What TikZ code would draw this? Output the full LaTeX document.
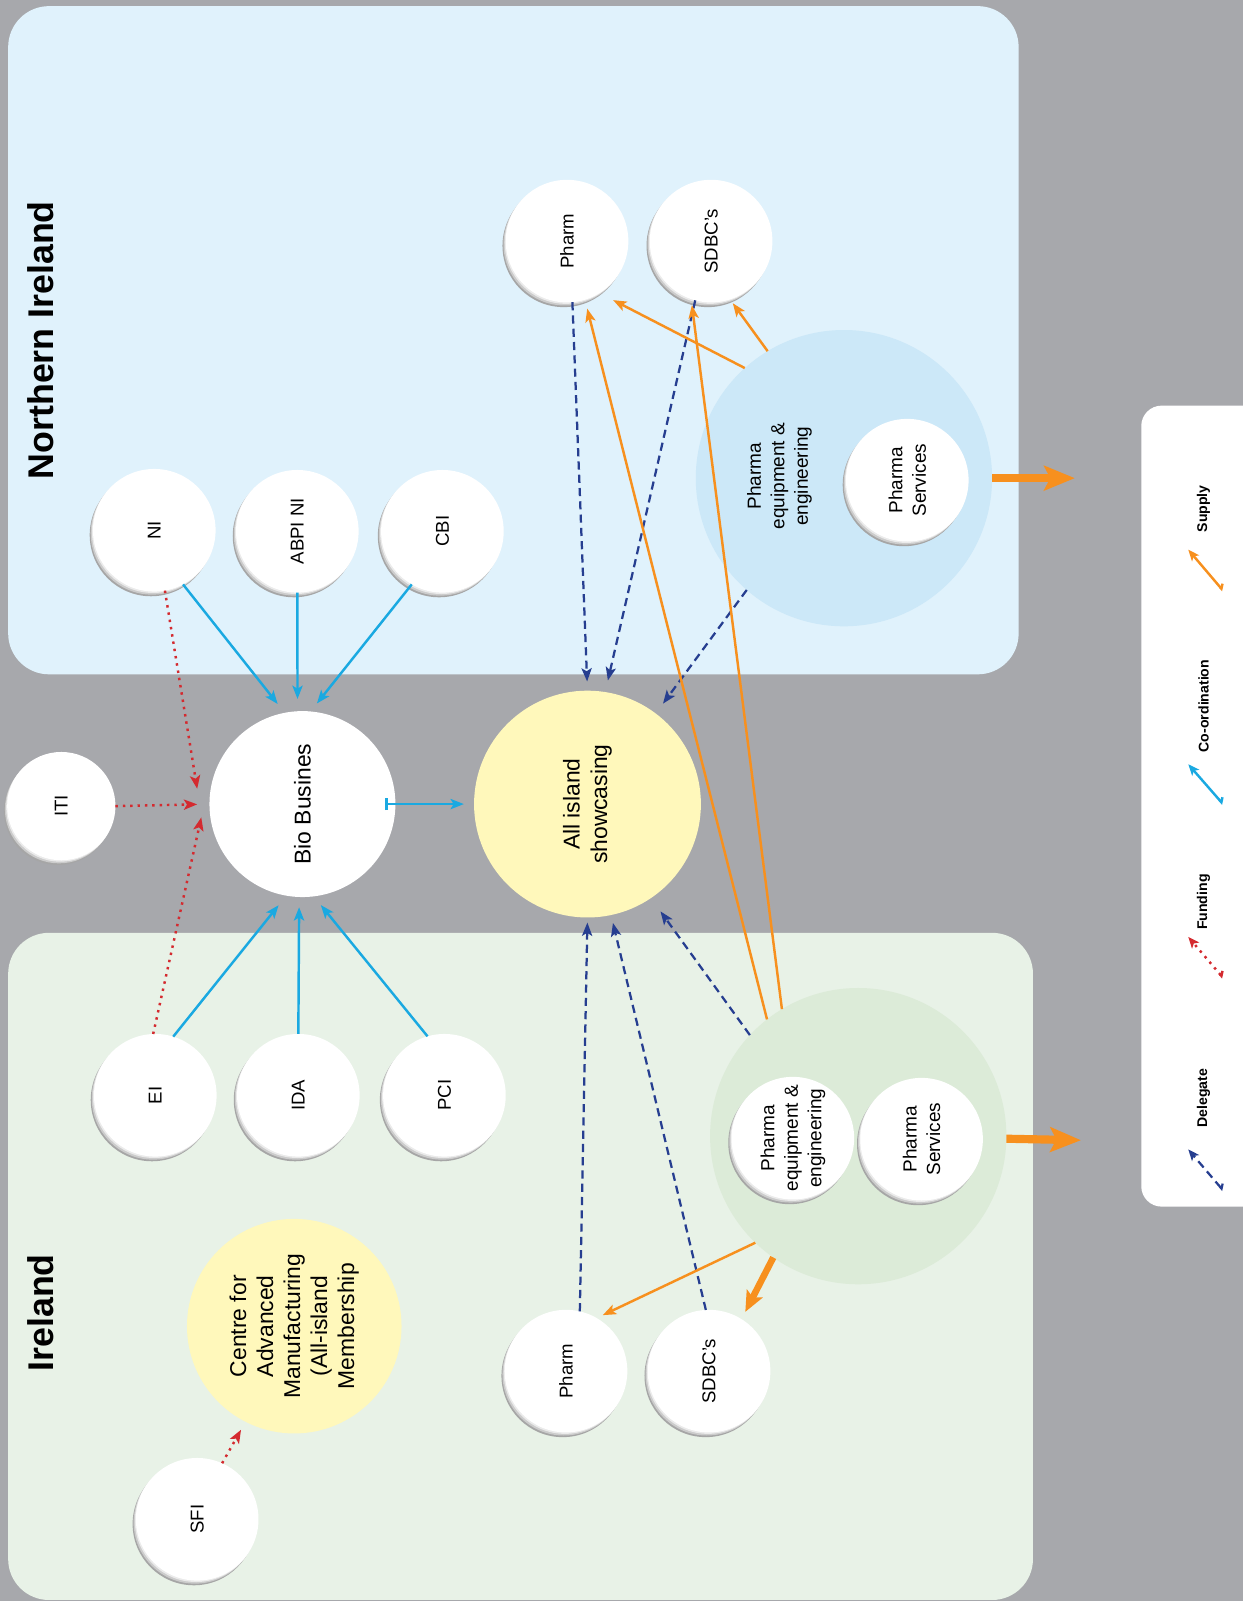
\documentclass[tikz,border=0pt]{standalone}
\usepackage{fontspec}
\setmainfont{Liberation Sans}
\usetikzlibrary{arrows.meta}
\definecolor{bgc}{HTML}{A7A8AC}
\definecolor{nip}{HTML}{E0F2FC}
\definecolor{iep}{HTML}{E8F2E7}
\definecolor{nic}{HTML}{CCE8F8}
\definecolor{iec}{HTML}{DCEBD8}
\definecolor{yel}{HTML}{FFF8BB}
\definecolor{orn}{HTML}{F7901E}
\definecolor{cyn}{HTML}{1AA9E1}
\definecolor{rd}{HTML}{D42A2F}
\definecolor{nvy}{HTML}{263E90}
\begin{document}
\begin{tikzpicture}[x=0.5pt,y=-0.5pt,
  btn/.style={circle, fill=white, minimum size=60pt, inner sep=0pt, outer sep=0pt,
    preaction={fill=black!35, transform canvas={shift={(-1.6pt,-2.3pt)}}},
    preaction={fill=black!20, transform canvas={shift={(-1.1pt,-1.5pt)}}},
    preaction={fill=black!8, transform canvas={shift={(-0.5pt,-0.7pt)}}}},
  disc/.style={circle, inner sep=0pt, outer sep=0pt},
  rottxt/.style={rotate=90, align=center, inner sep=0pt},
  txtsm/.style={font=\fontsize{9.1}{11.5}\selectfont},
  txtpe/.style={font=\fontsize{9.3}{11.5}\selectfont},
  txtmd/.style={font=\fontsize{11.2}{13.4}\selectfont},
  txtcam/.style={font=\fontsize{11.2}{13.2}\selectfont},
  txthead/.style={font=\fontsize{17.5}{20}\selectfont\bfseries},
  txtleg/.style={font=\fontsize{6.9}{8}\selectfont\bfseries},
  coordarr/.style={draw=cyn, line width=1.2pt, -{Stealth[length=6.5pt,width=5pt,inset=1.5pt]}},
  coordbar/.style={draw=cyn, line width=1.2pt, {Bar[width=6pt]}-{Stealth[length=6.5pt,width=5pt,inset=1.5pt]}},
  fundarr/.style={draw=rd, line width=1.2pt, dash pattern=on 1.2pt off 2.4pt, -{Stealth[length=6.5pt,width=5pt,inset=1.5pt]}},
  delearr/.style={draw=nvy, line width=1.1pt, dash pattern=on 4pt off 2.5pt, -{Stealth[length=6.5pt,width=5pt,inset=1.5pt]}},
  supparr/.style={draw=orn, line width=1.2pt, -{Stealth[length=6.5pt,width=5pt,inset=1.5pt]}},
  suppthick/.style={draw=orn, line width=4pt, -{Stealth[length=15pt,width=12pt,inset=3pt]}},
  suppmid/.style={draw=orn, line width=3.2pt, -{Stealth[length=10pt,width=8.5pt,inset=2pt]}},
  legtail/.style={{Straight Barb[left,length=1.5pt,width=4pt]}-{Stealth[length=5.5pt,width=4.5pt,inset=1.3pt]}}
]
\useasboundingbox (0,0) rectangle (1217,1567);
\clip (0,0) rectangle (1217,1567);
\fill[bgc] (0,0) rectangle (1217,1567);
\fill[nip, rounded corners=20pt] (8,6) rectangle (997,660);
\fill[iep, rounded corners=20pt] (8,913) rectangle (1011,1566);
\fill[white, rounded corners=10pt] (1117,397) rectangle (1260,1181);

% headings
\node[rottxt,txthead] (hni) at (40,333) {Northern Ireland};
\node[rottxt,txthead] (hie) at (40,1285) {Ireland};

% large circles
\node[disc, fill=nic, minimum size=145pt] (nibig) at (826,468) {};
\node[disc, fill=iec, minimum size=145pt] (iebig) at (840,1112) {};
\node[disc, fill=white, minimum size=91pt] (bio) at (296,787) {};
\node[disc, fill=yel, minimum size=111pt] (show) at (575,787) {};
\node[disc, fill=yel, minimum size=105pt] (cam) at (288,1298) {};

% buttons
\node[btn] (ni) at (151,519) {};
\node[btn] (abpi) at (291,520) {};
\node[btn] (cbi) at (433,520) {};
\node[btn, minimum size=53pt] (iti) at (60,789) {};
\node[btn] (pharmN) at (555,236) {};
\node[btn] (sdbcN) at (696,236) {};
\node[btn] (pservN) at (888,470) {};
\node[btn] (ei) at (152,1072) {};
\node[btn] (ida) at (292,1072) {};
\node[btn] (pci) at (435,1072) {};
\node[btn] (pequipI) at (776,1114) {};
\node[btn] (pservI) at (902,1115) {};
\node[btn] (pharmI) at (554,1342) {};
\node[btn] (sdbcI) at (694,1342) {};
\node[btn] (sfi) at (193,1487) {};

% texts
\node[rottxt,txtsm] (tni) at (ni) {NI};
\node[rottxt,txtsm] (tabpi) at (abpi) {ABPI NI};
\node[rottxt,txtsm] (tcbi) at (cbi) {CBI};
\node[rottxt,txtsm] (titi) at (iti) {ITI};
\node[rottxt,txtmd] (tbio) at (bio) {Bio Busines};
\node[rottxt,txtmd] (tshow) at (show) {All island\\showcasing};
\node[rottxt,txtsm] (tpharmN) at (pharmN) {Pharm};
\node[rottxt,txtsm] (tsdbcN) at (sdbcN) {SDBC’s};
\node[rottxt,txtpe] (tnipe) at (763,466) {Pharma\\equipment \&\\engineering};
\node[rottxt,txtpe] (tpservN) at (pservN) {Pharma\\Services};
\node[rottxt,txtsm] (tei) at (ei) {EI};
\node[rottxt,txtsm] (tida) at (ida) {IDA};
\node[rottxt,txtsm] (tpci) at (pci) {PCI};
\node[rottxt,txtpe] (tpequipI) at (pequipI) {Pharma\\equipment \&\\engineering};
\node[rottxt,txtpe] (tpservI) at (pservI) {Pharma\\Services};
\node[rottxt,txtsm] (tpharmI) at (pharmI) {Pharm};
\node[rottxt,txtsm] (tsdbcI) at (sdbcI) {SDBC’s};
\node[rottxt,txtcam] (tcam) at (cam) {Centre for\\Advanced\\Manufacturing\\(All-island\\Membership};
\node[rottxt,txtsm] (tsfi) at (sfi) {SFI};

% co-ordination
\draw[coordarr, shorten >=5.5pt] (ni.-62) -- (bio.101);
\draw[coordarr, shorten >=6pt] (abpi.-90) -- (bio.93);
\draw[coordarr, shorten >=5pt] (cbi.-120) -- (bio.85);
\draw[coordarr, shorten >=6pt] (ei.73) -- (bio.-100);
\draw[coordarr, shorten >=5pt] (ida.90) -- (bio.-92);
\draw[coordarr, shorten >=5.5pt] (pci.106) -- (bio.-83);
\draw[coordbar, shorten <=-5pt, shorten >=5pt] (bio.east) -- (show.west);

% funding
\coordinate (fniend) at (193,772);
\coordinate (feiend) at (197,800);
\draw[fundarr] (ni.-80) -- (fniend);
\draw[fundarr, shorten >=6pt] (iti.east) -- (bio.west);
\draw[fundarr] (ei.92) -- (feiend);
\draw[fundarr, shorten >=4.5pt] (sfi.66) -- (cam.-117);

% delegate
\draw[delearr, shorten >=4.5pt] (pharmN.-85) -- (show.90);
\draw[delearr, shorten >=5.8pt] (sdbcN.-105) -- (show.81);
\draw[delearr, shorten >=6pt] (nibig.-131) -- (show.53);
\draw[delearr, shorten >=2.5pt] (pharmI.77) -- (show.-90);
\draw[delearr, shorten >=4pt] (sdbcI.93) -- (show.-78);
\draw[delearr, shorten >=8pt] (iebig.137) -- (show.-56);

% supply
\draw[supparr, shorten >=4.5pt] (iebig.128) -- (pharmN.-73);
\draw[supparr, shorten >=3pt] (iebig.121) -- (sdbcN.-109);
\draw[supparr, shorten >=7.5pt] (nibig.132) -- (pharmN.-58);
\draw[supparr, shorten >=2.3pt] (nibig.121) -- (sdbcN.-72);
\draw[supparr, shorten >=3.3pt] (iebig.-134) -- (pharmI.60);
\draw[suppmid, shorten >=4pt] (iebig.-125) -- (sdbcI.58);
\coordinate (outN) at (1052,468);
\coordinate (outI) at (1058,1116);
\draw[suppthick] (nibig.east) -- (outN);
\draw[suppthick] (iebig.-1.6) -- (outI);

% legend
\coordinate (ls1) at (1197,578); \coordinate (le1) at (1163,538);
\coordinate (ls2) at (1197,787); \coordinate (le2) at (1163,748);
\coordinate (ls3) at (1197,957); \coordinate (le3) at (1163,917);
\coordinate (ls4) at (1197,1165); \coordinate (le4) at (1163,1125);
\draw[supparr, legtail] (ls1) -- (le1);
\draw[coordarr, legtail] (ls2) -- (le2);
\draw[fundarr, legtail] (ls3) -- (le3);
\draw[delearr, legtail] (ls4) -- (le4);
\node[rottxt,txtleg] (lsup) at (1178,498) {Supply};
\node[rottxt,txtleg] (lcoo) at (1178,691) {Co-ordination};
\node[rottxt,txtleg] (lfun) at (1178,883) {Funding};
\node[rottxt,txtleg] (ldel) at (1178,1075) {Delegate};
\end{tikzpicture}
\end{document}
